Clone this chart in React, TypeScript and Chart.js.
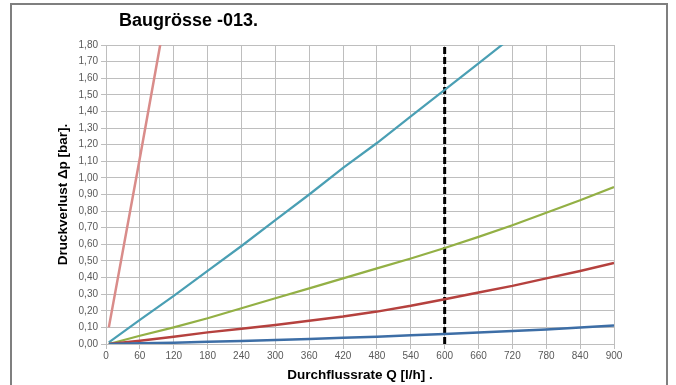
import React, { useEffect, useRef } from 'react';
import { Chart, registerables } from 'chart.js';

Chart.register(...registerables);

const titleText = 'Baugrösse -013.';
const yTitle = 'Druckverlust Δp [bar].';
const xTitle = 'Durchflussrate Q [l/h] .';

const qPink = [5, 60, 96, 102];
const vPink = [0.1, 1.12, 1.8, 1.91];

const qTeal = [5, 60, 120, 180, 240, 300, 360, 420, 480, 540, 600, 660, 720];
const vTeal = [0.01, 0.145, 0.29, 0.44, 0.59, 0.745, 0.9, 1.06, 1.21, 1.37, 1.53, 1.69, 1.85];

const qMain = [5, 60, 120, 180, 240, 300, 360, 420, 480, 540, 600, 660, 720, 780, 840, 900];
const vGreen = [0.0, 0.05, 0.1, 0.155, 0.215, 0.275, 0.335, 0.395, 0.455, 0.515, 0.578, 0.645, 0.715, 0.79, 0.865, 0.945];
const vRed = [0.0, 0.02, 0.044, 0.07, 0.092, 0.115, 0.14, 0.165, 0.195, 0.23, 0.27, 0.31, 0.35, 0.395, 0.44, 0.488];
const vBlue = [0.0, 0.004, 0.008, 0.013, 0.018, 0.024, 0.03, 0.037, 0.044, 0.052, 0.06, 0.069, 0.078, 0.088, 0.099, 0.112];

const qMarker = [600, 600];
const vMarker = [0, 1.8];

const xMin = 0;
const xMax = 900;
const xStep = 60;
const yMin = 0;
const yMax = 1.8;
const yStep = 0.1;

const FONT = '"Liberation Sans", Arial, sans-serif';

const pts = (xs: number[], ys: number[]) => xs.map((x, i) => ({ x, y: ys[i] }));

const framePlugin = {
  id: 'frame',
  beforeDraw(chart: any) {
    const ctx = chart.ctx;
    ctx.save();
    ctx.fillStyle = '#ffffff';
    ctx.fillRect(0, 0, chart.width, chart.height);
    ctx.restore();
  },
  afterDraw(chart: any) {
    const ctx = chart.ctx;
    ctx.save();
    ctx.strokeStyle = '#7f7f7f';
    ctx.lineWidth = 2;
    ctx.beginPath();
    ctx.moveTo(11, chart.height + 2);
    ctx.lineTo(11, 4);
    ctx.lineTo(667, 4);
    ctx.lineTo(667, chart.height + 2);
    ctx.stroke();
    ctx.fillStyle = '#000000';
    ctx.font = 'bold 18px ' + FONT;
    ctx.textBaseline = 'middle';
    ctx.textAlign = 'left';
    ctx.fillText(titleText, 119, 21);
    ctx.restore();
  },
};

export default function App() {
  const ref = useRef<HTMLCanvasElement | null>(null);
  useEffect(() => {
    if (!ref.current) return;
    const gridColor = '#bebebe';
    const line = (label: string, data: any, color: string, width: number, dash?: number[]) => ({
      label,
      data,
      borderColor: color,
      backgroundColor: color,
      borderWidth: width,
      borderDash: dash || [],
      pointRadius: 0,
      fill: false,
      tension: 0,
    });
    const chart = new Chart(ref.current, {
      type: 'line',
      data: {
        datasets: [
          line('blue', pts(qMain, vBlue), '#3d6ea6', 2.5),
          line('red', pts(qMain, vRed), '#b5413e', 2.5),
          line('green', pts(qMain, vGreen), '#93b045', 2.2),
          line('teal', pts(qTeal, vTeal), '#4a9fb4', 2.2),
          line('pink', pts(qPink, vPink), '#d98c8a', 2.5),
          line('marker', pts(qMarker, vMarker), '#000000', 3, [7, 3]),
        ],
      },
      plugins: [framePlugin],
      options: {
        animation: false,
        responsive: false,
        devicePixelRatio: 1,
        layout: { padding: { left: 51, right: 62, top: 45, bottom: 0 } },
        plugins: {
          legend: { display: false },
          tooltip: { enabled: false },
          title: { display: false },
        },
        scales: {
          x: {
            type: 'linear',
            min: xMin,
            max: xMax,
            afterFit: (s: any) => {
              s.height = 41;
            },
            ticks: {
              stepSize: xStep,
              padding: 1,
              color: '#595959',
              font: { family: FONT, size: 10 },
              maxRotation: 0,
              callback: (v: any) => String(v),
            },
            grid: { color: gridColor, tickLength: 5, lineWidth: 1 },
            border: { color: gridColor },
            title: {
              display: true,
              text: xTitle,
              color: '#000000',
              font: { family: FONT, size: 13.5, weight: 'bold' },
              padding: { top: 0, bottom: 2 },
            },
          },
          y: {
            type: 'linear',
            min: yMin,
            max: yMax,
            afterFit: (s: any) => {
              s.width = 55;
            },
            ticks: {
              stepSize: yStep,
              padding: 3,
              color: '#595959',
              font: { family: FONT, size: 10 },
              callback: (v: any) => Number(v).toFixed(2).replace('.', ','),
            },
            grid: { color: gridColor, tickLength: 5, lineWidth: 1 },
            border: { color: gridColor },
            title: {
              display: true,
              text: yTitle,
              color: '#000000',
              font: { family: FONT, size: 13.5, weight: 'bold' },
              padding: { top: 4, bottom: 0 },
            },
          },
        },
      },
    } as any);
    return () => chart.destroy();
  }, []);
  return (
    <div style={{ position: 'absolute', left: 0, top: 0, width: 676, height: 385 }}>
      <canvas ref={ref} width={676} height={385} style={{ display: 'block' }} />
    </div>
  );
}
